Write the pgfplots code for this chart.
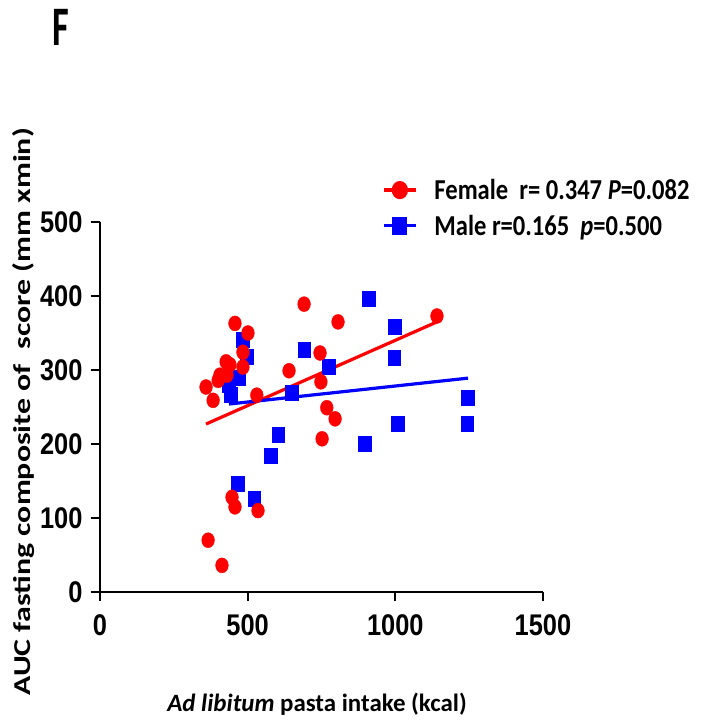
\documentclass[border=0pt]{standalone}
\usepackage{pgfplots}
\usepackage{pgfplotstable}
\pgfplotsset{compat=1.18}
\usepackage{fontspec}
\setmainfont{Carlito}
\newfontfamily\arialfont{Liberation Sans}

% female: intake (kcal), AUC score
\pgfplotstableread{
x y
457 363
501 350
691 389
806 365
1141 373
484 324
427 311
440 307
484 304
406 293
430 293
400 286
359 277
383 259
531 266
640 299
745 323
748 284
768 249
796 234
752 207
447 128
457 115
535 110
366 70
413 36
}\female

% male
\pgfplotstableread{
x y
484 341
497 318
471 290
437 280
443 266
691 327
775 304
650 269
603 212
579 184
467 146
522 126
911 397
999 358
996 316
1246 262
1243 228
1009 228
897 201
}\male

\newcommand\ticklab[1]{{\arialfont\bfseries\fontsize{30}{30}\selectfont\scalebox{0.85}[1]{\pgfmathprintnumber[assume math mode=true,1000 sep={}]{#1}}}}
\newcommand\sq[1]{\scalebox{0.85}[1]{#1}}

\begin{document}
\begin{tikzpicture}
\useasboundingbox (0,0) rectangle (707bp,721bp);
\begin{axis}[
  at={(100bp,129bp)}, anchor=south west,
  scale only axis, width=443bp, height=370bp,
  xmin=0, xmax=1500, ymin=0, ymax=500,
  axis x line*=bottom, axis y line*=left,
  axis line style={line width=2.2bp, -},
  xtick={0,500,1000,1500}, ytick={0,100,...,500},
  tick align=outside, major tick length=9bp,
  tick style={line width=2.2bp, black},
  xticklabel={\ticklab{\tick}},
  yticklabel={\ticklab{\tick}},
  xticklabel style={yshift=-10bp},
  yticklabel style={xshift=-5bp},
  xlabel={\textit{Ad libitum} pasta intake (kcal)},
  xlabel style={at={(rel axis cs:0.49,-0.302)}, anchor=center, font=\bfseries\fontsize{25}{25}\selectfont},
  ylabel={\scalebox{1}[0.76]{AUC fasting composite of\ \ score (mm xmin)}},
  ylabel style={at={(rel axis cs:-0.172,0.487)}, anchor=center, font=\bfseries\fontsize{32}{32}\selectfont},
  legend style={draw=none, fill=none, at={(rel axis cs:0.630,1.127)}, anchor=north west,
    font=\bfseries\fontsize{29}{29}\selectfont, row sep=10bp,
    /tikz/every odd column/.append style={column sep=15bp}},
  legend cell align=left,
  legend image code/.code={\draw[mark repeat=2,mark phase=2,#1] plot coordinates {(0bp,0bp) (16bp,0bp) (32bp,0bp)};},
  clip=false,
]
\addplot[red, line width=3.2bp, legend image post style={mark=*, mark size=7.5bp, mark options={xscale=0.87}}]
  coordinates {(359,227) (1141,365)};
\addlegendentry{\sq{Female\ \ r= 0.347 \textit{P}=0.082}}
\addplot[blue, line width=3.2bp, legend image post style={mark=square*, mark size=7.5bp, mark options={xscale=0.8}}]
  coordinates {(437,254) (1246,289)};
\addlegendentry{\sq{Male r=0.165\ \ \textit{p}=0.500}}
\addplot[only marks, mark=square*, blue, mark size=7.5bp, mark options={xscale=0.85}, forget plot]
  table[x=x, y=y] {\male};
\addplot[only marks, mark=*, red, mark size=7.5bp, mark options={xscale=0.85}, forget plot]
  table[x=x, y=y] {\female};
\node[font=\bfseries\fontsize{56}{56}\selectfont, anchor=base] at (rel axis cs:-0.088,1.478) {\scalebox{0.65}[1]{F}};
\end{axis}
\end{tikzpicture}
\end{document}
